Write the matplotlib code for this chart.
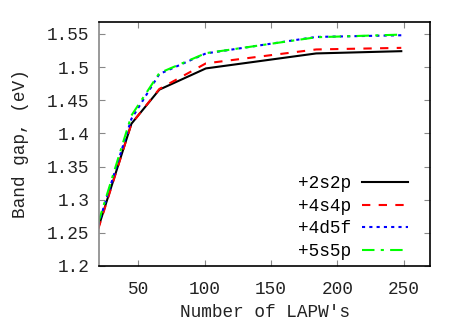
import matplotlib
matplotlib.use("Agg")
import matplotlib.pyplot as plt

x = [20, 45, 66, 101, 184, 248]
s2s2p = [1.2575, 1.4146, 1.466, 1.498, 1.5206, 1.524]
s4s4p = [1.2555, 1.4146, 1.467, 1.5056, 1.5266, 1.529]
s4d5f = [1.262, 1.422, 1.4895, 1.5206, 1.5455, 1.548]
s5s5p = [1.265, 1.427, 1.491, 1.521, 1.545, 1.549]
labels = ["+2s2p", "+4s4p", "+4d5f", "+5s5p"]
xticks = [50, 100, 150, 200, 250]
yticks = [1.2, 1.25, 1.3, 1.35, 1.4, 1.45, 1.5, 1.55]
yticklabels = ["1.2", "1.25", "1.3", "1.35", "1.4", "1.45", "1.5", "1.55"]

plt.rcParams['font.family'] = ['Liberation Mono', 'DejaVu Sans Mono']
fs = 12.8
fig = plt.figure(figsize=(4.63, 3.24), dpi=100)
ax = fig.add_axes([99/463, 1-266/324, (430-99)/463, (266-22)/324])

lw = 1.5
ax.plot(x, s2s2p, color='black', lw=lw, label=labels[0])
ax.plot(x, s4s4p, color='#ff0000', lw=lw, dashes=(4, 4), label=labels[1])
ax.plot(x, s4d5f, color='#0000ff', lw=lw, dashes=(1.5, 2), label=labels[2])
ax.plot(x, s5s5p, color='#00ff00', lw=lw, dashes=(6, 3, 1.5, 3), label=labels[3])

ax.set_xlim(20.6, 269.6)
ax.set_ylim(1.2, 1.568)
ax.set_xticks(xticks)
ax.set_yticks(yticks)
ax.set_yticklabels(yticklabels)
ax.tick_params(direction='in', length=4, labelsize=fs, top=True, right=True,
               colors='#888888', labelcolor='#222222', pad=7)
ax.tick_params(axis='x', pad=11)
for s in ['top', 'right', 'bottom']:
    ax.spines[s].set_color('black')
ax.spines['left'].set_color('#888888')
for s in ax.spines.values():
    s.set_linewidth(1.2)

ax.set_xlabel("Number of LAPW's", fontsize=fs, labelpad=4, color='#222222')
ax.set_ylabel("Band gap, (eV)", fontsize=fs, labelpad=13, color='#222222')

leg = ax.legend(loc='lower right', frameon=False, markerfirst=False, fontsize=fs,
                handlelength=2.6, handletextpad=0.6, labelspacing=0.32,
                borderaxespad=0.0, bbox_to_anchor=(0.955, -0.005))

fig.savefig("out.png", dpi=100)
